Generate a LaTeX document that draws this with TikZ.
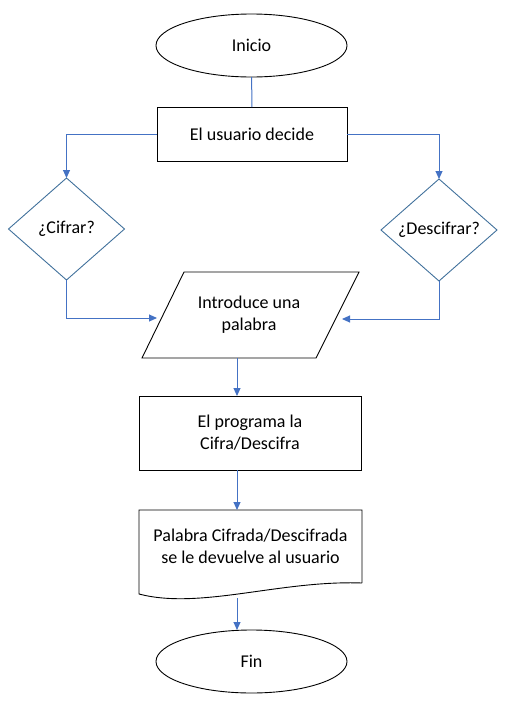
\documentclass[tikz,border=0pt]{standalone}
\usepackage{fontspec}
\setmainfont{Carlito}
\usetikzlibrary{shapes.geometric,arrows.meta}
\definecolor{azul}{HTML}{4472C4}
\definecolor{borde}{HTML}{41719C}
\tikzstyle{terminal}=[ellipse, draw=black, line width=0.9pt, minimum width=191pt, minimum height=63pt, inner sep=0pt, outer sep=0pt]
\tikzstyle{proceso}=[rectangle, draw=black, line width=0.9pt, inner sep=0pt, outer sep=0pt, align=center]
\tikzstyle{decision}=[diamond, draw=borde, line width=0.9pt, minimum width=116pt, minimum height=102pt, inner sep=0pt, outer sep=0pt]
\tikzstyle{caja} = [rectangle, inner sep=0pt, outer sep=0pt, align=center]
\tikzstyle{flecha} = [draw, azul, line width=1pt, -{Triangle[length=8pt,width=7pt]}]
\tikzstyle{linea} = [draw, azul, line width=1pt, -]

\begin{document}
\begin{tikzpicture}[x=1pt, y=-1pt, font=\fontsize{18}{22}\selectfont]
	    \useasboundingbox (0,0) rectangle (509,702);
	    \node[terminal] (inicio) at (251.5,45.5) {Inicio};
	    \node[proceso, minimum width=190pt, minimum height=54pt] (decide) at (252,134) {El usuario decide};
	    \foreach \pos/\name/\texto in {{(66.5,229)/cifrar/¿Cifrar?}, {(439,230)/descifrar/¿Descifrar?}}
	        \node[decision] (\name) at \pos {\texto};
	    \node[caja, minimum width=217pt, minimum height=86pt] (entrada) at (249,315) {Introduce una\\palabra};
	    \draw[line width=0.9pt] (142,358) -- (184,272) -- (359,272) -- (316,358) -- cycle;
	    \coordinate (entrada-l) at (157,318);
	    \coordinate (entrada-r) at (342,319);
	    \coordinate (eje) at (237,358);
	    \node[proceso, minimum width=222pt, minimum height=74pt] (programa) at (250,433) {El programa la\\Cifra/Descifra};
	    \node[caja, minimum width=223pt, minimum height=73pt] (salida) at (250.5,546.5) {Palabra Cifrada/Descifrada\\se le devuelve al usuario};
	    \draw[line width=0.9pt] (salida.south east) -- (salida.north east) -- (salida.north west) -- ++(0,84)
	        .. controls (200,610) and (280,580) .. (salida.south east);
	    \coordinate (ola) at (237,598);
	    \node[terminal] (fin) at (251.5,661.5) {Fin};
	    \path[linea] (inicio) -- (decide);
	    \path[flecha] (decide.west) -| (cifrar.north);
	    \path[flecha] (decide.east) -| (descifrar.north);
	    \path[flecha] (cifrar.south) |- (entrada-l);
	    \path[flecha] (descifrar.south) |- (entrada-r);
	    \path[flecha] (eje) -- (eje |- programa.north);
	    \path[flecha] (eje |- programa.south) -- (eje |- salida.north);
	    \path[flecha] (ola) -- (ola |- fin.north);
	\end{tikzpicture}
\end{document}
